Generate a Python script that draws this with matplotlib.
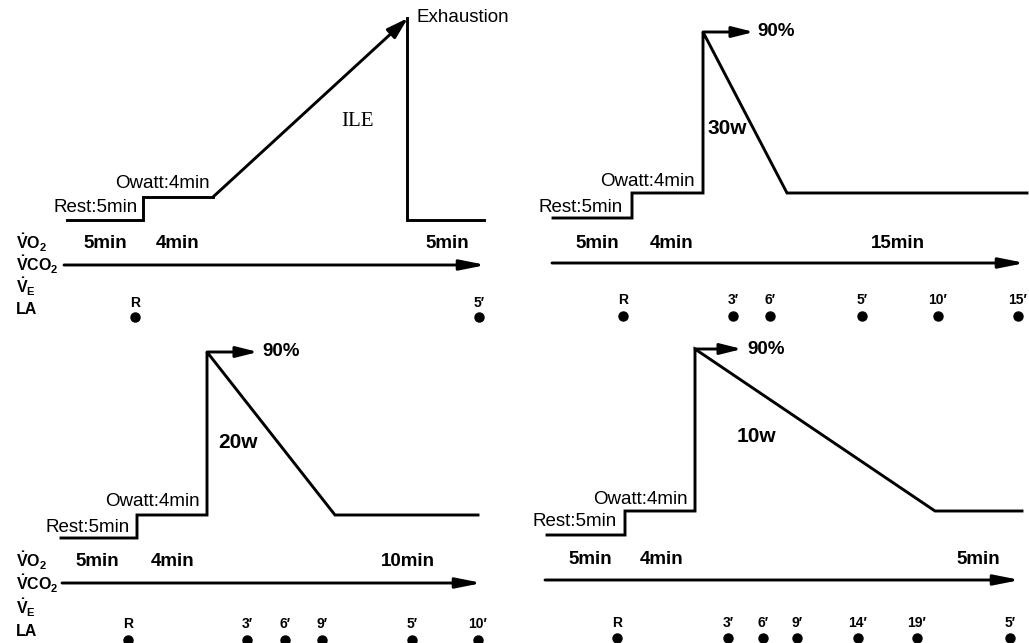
import matplotlib
matplotlib.use("Agg")
import matplotlib.pyplot as plt

plt.rcParams['font.family'] = ['Liberation Sans', 'DejaVu Sans']
plt.rcParams['mathtext.fontset'] = 'custom'
plt.rcParams['mathtext.rm'] = 'Liberation Sans'
plt.rcParams['mathtext.bf'] = 'Liberation Sans:bold'
plt.rcParams['mathtext.it'] = 'Liberation Sans:italic'

# ---- schematic data (diagram units) ----
# Panel A: incremental load to exhaustion (ILE)
a_profile_x = [67, 143, 143, 213]
a_profile_y = [220, 220, 197, 197]
a_ramp_start = (213, 197)
a_ramp_end = (408, 18)
a_recovery_x = [407, 407, 484]
a_recovery_y = [18, 220, 220]
a_sample_x = [135, 479]
a_sample_labels = ["R", "5′"]
a_durations = ["5min", "4min", "5min"]
a_duration_x = [105, 178, 447]

# Panel B: 30 W decrement
b_profile_x = [553, 632, 632, 703, 703, 787, 1027]
b_profile_y = [218, 218, 193, 193, 32, 193, 193]
b_sample_x = [623, 733, 770, 862, 938, 1018]
b_sample_labels = ["R", "3′", "6′", "5′", "10′", "15′"]
b_durations = ["5min", "4min", "15min"]
b_duration_x = [597, 672, 898]

# Panel C: 20 W decrement
c_profile_x = [61, 137, 137, 207, 207, 335, 478]
c_profile_y = [538, 538, 515, 515, 352, 515, 515]
c_sample_x = [128, 247, 285, 322, 412, 478]
c_sample_labels = ["R", "3′", "6′", "9′", "5′", "10′"]
c_durations = ["5min", "4min", "10min"]
c_duration_x = [97, 173, 408]

# Panel D: 10 W decrement
d_profile_x = [547, 625, 625, 695, 695, 935, 1022]
d_profile_y = [535, 535, 511, 511, 349, 511, 511]
d_sample_x = [617, 728, 763, 797, 858, 917, 1010]
d_sample_labels = ["R", "3′", "6′", "9′", "14′", "19′", "5′"]
d_durations = ["5min", "4min", "5min"]
d_duration_x = [590, 662, 978]

row_labels = [r'$\mathbf{\dot{V}O}_{\mathbf{2}}$', r'$\mathbf{\dot{V}CO}_{\mathbf{2}}$',
              r'$\mathbf{\dot{V}}_{\mathbf{E}}$', 'LA']

fig = plt.figure(figsize=(10.29, 6.43), dpi=100)
ax = fig.add_axes([0, 0, 1, 1])
ax.set_xlim(0, 1029)
ax.set_ylim(643, 0)
ax.axis('off')

LW = 2.1
FS = 13.5

def arrow(p0, p1, hl=1.0, hw=0.25, ms=12):
    ax.annotate('', xy=p1, xytext=p0,
                arrowprops=dict(arrowstyle=f'-|>,head_length={hl},head_width={hw}',
                                lw=LW, color='black', shrinkA=0, shrinkB=0,
                                mutation_scale=ms))

def panel(px, py, rest_xy, owatt_xy, dur_txt, dur_x, dur_y,
          axis_y, axis_x0, axis_x1, samp_x, samp_lab, lab_y, dot_y):
    if px:
        ax.plot(px, py, color='black', lw=LW, solid_joinstyle='miter')
    ax.text(rest_xy[0], rest_xy[1], "Rest:5min", ha='right', va='center', fontsize=FS)
    ax.text(owatt_xy[0], owatt_xy[1], "Owatt:4min", ha='right', va='center', fontsize=FS)
    for t, x in zip(dur_txt, dur_x):
        ax.text(x, dur_y, t, ha='center', va='center', fontsize=FS, fontweight='bold')
    arrow((axis_x0, axis_y), (axis_x1, axis_y), hl=1.1, hw=0.22, ms=14)
    ax.plot(samp_x, [dot_y] * len(samp_x), 'o', color='black', ms=6.5, ls='none')
    for x, l in zip(samp_x, samp_lab):
        ax.text(x, lab_y, l, ha='center', va='center', fontsize=10, fontweight='bold')

def row_label_block(ys):
    for l, y in zip(row_labels, ys):
        ax.text(16, y, l, ha='left', va='center', fontsize=11.5, fontweight='bold')

# Panel A
ax.plot(a_profile_x, a_profile_y, color='black', lw=LW, solid_joinstyle='miter')
ax.plot(a_recovery_x, a_recovery_y, color='black', lw=LW, solid_joinstyle='miter')
arrow(a_ramp_start, a_ramp_end, hl=1.0, hw=0.3, ms=13)
panel([], [], (138, 208), (210, 183), a_durations, a_duration_x, 243,
      265, 64, 486, a_sample_x, a_sample_labels, 303, 317)
ax.text(417, 17, "Exhaustion", ha='left', va='center', fontsize=FS)
ax.text(358, 122, "ILE", ha='center', va='center', fontsize=15,
        family=['Liberation Serif', 'DejaVu Serif'])
row_label_block([243, 265, 287, 310])

# Panel B
panel(b_profile_x, b_profile_y, (623, 208), (695, 182), b_durations, b_duration_x, 243,
      263, 552, 1025, b_sample_x, b_sample_labels, 300, 316)
arrow((b_profile_x[4], b_profile_y[4]), (754, b_profile_y[4]), hl=1.0, hw=0.25, ms=13)
ax.text(757, 32, "90%", ha='left', va='center', fontsize=FS, fontweight='bold')
ax.text(707, 128, "30w", ha='left', va='center', fontsize=15, fontweight='bold')

# Panel C
panel(c_profile_x, c_profile_y, (130, 527), (200, 502), c_durations, c_duration_x, 562,
      583, 62, 482, c_sample_x, c_sample_labels, 624, 640)
arrow((c_profile_x[4], c_profile_y[4]), (258, c_profile_y[4]), hl=1.0, hw=0.25, ms=13)
ax.text(262, 352, "90%", ha='left', va='center', fontsize=FS, fontweight='bold')
ax.text(218, 443, "20w", ha='left', va='center', fontsize=15, fontweight='bold')
row_label_block([561, 584, 608, 632])

# Panel D
panel(d_profile_x, d_profile_y, (617, 522), (688, 500), d_durations, d_duration_x, 560,
      580, 545, 1020, d_sample_x, d_sample_labels, 623, 638)
arrow((d_profile_x[4], d_profile_y[4]), (742, d_profile_y[4]), hl=1.0, hw=0.25, ms=13)
ax.text(747, 349, "90%", ha='left', va='center', fontsize=FS, fontweight='bold')
ax.text(737, 437, "10w", ha='left', va='center', fontsize=15, fontweight='bold')

fig.savefig("out.png", dpi=100)
